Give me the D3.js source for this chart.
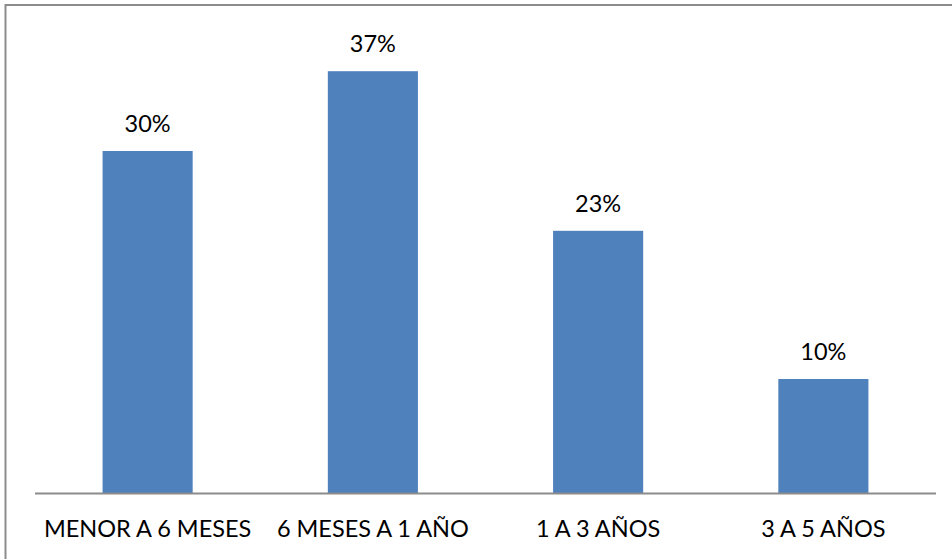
<!DOCTYPE html>
<html>
<head>
<meta charset="utf-8">
<script src="https://cdn.jsdelivr.net/npm/d3@7"></script>
<style>
  html, body { margin: 0; padding: 0; background: #fff; }
  svg { display: block; }
</style>
</head>
<body>
<svg id="chart" width="952" height="559"></svg>
<script>
const categories = ["MENOR A 6 MESES", "6 MESES A 1 AÑO", "1 A 3 AÑOS", "3 A 5 AÑOS"];
const values = [30, 37, 23, 10];
const valueLabels = ["30%", "37%", "23%", "10%"];

const W = 952, H = 559;
const plot = { left: 35, right: 936, top: 37, bottom: 493 };
const font = "Lato, 'Open Sans', sans-serif";
const fontSize = 23.5;

const svg = d3.select("#chart");

// outer frame
svg.append("rect")
  .attr("x", 5.5).attr("y", 5)
  .attr("width", W + 10).attr("height", H + 10)
  .attr("fill", "#fff")
  .attr("stroke", "#8c8c8c")
  .attr("stroke-width", 2);

const x = d3.scaleBand()
  .domain(categories)
  .range([plot.left, plot.right])
  .paddingInner(0.6)
  .paddingOuter(0.3);

const y = d3.scaleLinear()
  .domain([0, 40])
  .range([plot.bottom, plot.top]);

// bars
svg.append("g").selectAll("rect")
  .data(categories)
  .join("rect")
  .attr("x", d => x(d))
  .attr("y", (d, i) => y(values[i]))
  .attr("width", x.bandwidth())
  .attr("height", (d, i) => y(0) - y(values[i]))
  .attr("fill", "#4f81bd");

// value labels
svg.append("g").selectAll("text")
  .data(categories)
  .join("text")
  .attr("x", d => x(d) + x.bandwidth() / 2)
  .attr("y", (d, i) => y(values[i]) - 19)
  .attr("text-anchor", "middle")
  .attr("font-family", font)
  .attr("font-size", fontSize)
  .attr("fill", "#000")
  .text((d, i) => valueLabels[i]);

// category axis
const axis = svg.append("g")
  .attr("transform", `translate(0,${plot.bottom})`)
  .call(d3.axisBottom(x).tickSize(0).tickPadding(0));
axis.select(".domain")
  .attr("d", `M${plot.left},0.5H${plot.right}`)
  .attr("stroke", "#8c8c8c")
  .attr("stroke-width", 2);
axis.selectAll(".tick text")
  .attr("y", 44)
  .attr("dy", 0)
  .attr("font-family", font)
  .attr("font-size", fontSize)
  .attr("fill", "#000");
</script>
</body>
</html>
